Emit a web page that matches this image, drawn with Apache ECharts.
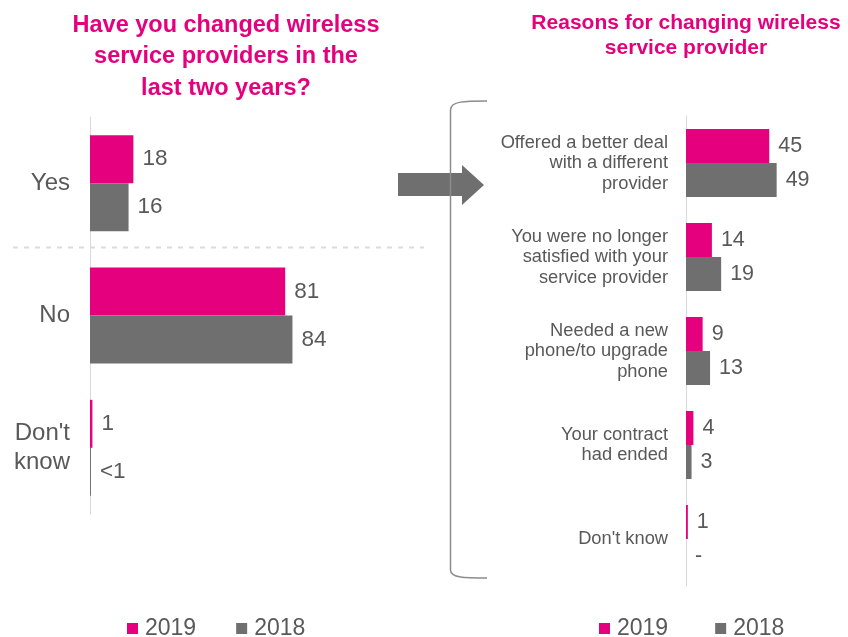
<!DOCTYPE html>
<html>
<head>
<meta charset="utf-8">
<script src="https://cdn.jsdelivr.net/npm/echarts@6/dist/echarts.min.js"></script>
<style>
  html, body { margin: 0; padding: 0; background: #ffffff; }
  #chart { width: 848px; height: 637px; }
</style>
</head>
<body>
<div id="chart"></div>
<script>
// Survey: switching wireless providers
const seriesNames = ['2019', '2018'];

const switchCategories = ['Yes', 'No', "Don't\nknow"];
const switch2019 = [18, 81, 1];
const switch2018 = [16, 84, 0.4];
const switchLabels2019 = ['18', '81', '1'];
const switchLabels2018 = ['16', '84', '<1'];

const reasonCategories = [
  'Offered a better deal\nwith a different\nprovider',
  'You were no longer\nsatisfied with your\nservice provider',
  'Needed a new\nphone/to upgrade\nphone',
  'Your contract\nhad ended',
  "Don't know"
];
const reason2019 = [45, 14, 9, 4, 1];
const reason2018 = [49, 19, 13, 3, 0];
const reasonLabels2019 = ['45', '14', '9', '4', '1'];
const reasonLabels2018 = ['49', '19', '13', '3', '-'];

const PINK = '#E5007D';
const GREY = '#6F6F6F';
const TEXT = '#595959';
const FONT = 'Liberation Sans, Arial, sans-serif';

const chart = echarts.init(document.getElementById('chart'), null, { renderer: 'canvas' });

function valueLabel(labels, size) {
  return {
    show: true,
    position: 'right',
    distance: 9,
    color: TEXT,
    fontSize: size,
    fontFamily: FONT,
    formatter: p => labels[p.dataIndex]
  };
}

function catAxis(gridIndex, data, fontSize, lineHeight, margin) {
  return {
    type: 'category',
    gridIndex: gridIndex,
    data: data,
    inverse: true,
    axisTick: { show: false },
    axisLine: { show: true, lineStyle: { color: '#D9D9D9', width: 1 } },
    axisLabel: {
      color: TEXT, fontSize: fontSize, fontFamily: FONT,
      lineHeight: lineHeight, margin: margin, align: 'right'
    },
    splitLine: { show: false }
  };
}

function valAxis(gridIndex, max) {
  return {
    type: 'value',
    gridIndex: gridIndex,
    min: 0,
    max: max,
    show: false,
    splitLine: { show: false }
  };
}

function legendAt(left, gap) {
  return {
    data: seriesNames,
    left: left, top: 617, padding: 0,
    itemWidth: 11, itemHeight: 11, itemGap: gap,
    icon: 'rect',
    textStyle: { color: TEXT, fontSize: 23, fontFamily: FONT, padding: [0, 0, 0, 2] }
  };
}

const bracketStyle = { stroke: '#8C8C8C', lineWidth: 1.5, fill: null };

const option = {
  backgroundColor: '#ffffff',
  animation: false,
  textStyle: { fontFamily: FONT },
  legend: [legendAt(127, 40), legendAt(599, 47)],
  grid: [
    { left: 90, top: 117, width: 241, height: 397 },
    { left: 686, top: 116, width: 111, height: 470 }
  ],
  xAxis: [valAxis(0, 100), valAxis(1, 60)],
  yAxis: [
    catAxis(0, switchCategories, 24, 29, 20),
    catAxis(1, reasonCategories, 18.3, 20.5, 18)
  ],
  series: [
    {
      name: '2019', type: 'bar', xAxisIndex: 0, yAxisIndex: 0,
      data: switch2019, barWidth: 48, barGap: '0%',
      itemStyle: { color: PINK },
      label: valueLabel(switchLabels2019, 22.5)
    },
    {
      name: '2018', type: 'bar', xAxisIndex: 0, yAxisIndex: 0,
      data: switch2018, barWidth: 48, barGap: '0%',
      itemStyle: { color: GREY },
      label: valueLabel(switchLabels2018, 22.5)
    },
    {
      name: '2019', type: 'bar', xAxisIndex: 1, yAxisIndex: 1,
      data: reason2019, barWidth: 34, barGap: '0%',
      itemStyle: { color: PINK },
      label: valueLabel(reasonLabels2019, 21.5)
    },
    {
      name: '2018', type: 'bar', xAxisIndex: 1, yAxisIndex: 1,
      data: reason2018, barWidth: 34, barGap: '0%',
      itemStyle: { color: GREY },
      label: valueLabel(reasonLabels2018, 21.5)
    }
  ],
  graphic: [
    {
      type: 'text', x: 226, y: 57, silent: true,
      style: {
        text: 'Have you changed wireless\nservice providers in the\nlast two years?',
        fill: PINK, font: 'bold 23.5px ' + FONT,
        align: 'center', verticalAlign: 'middle', lineHeight: 31.5
      }
    },
    {
      type: 'text', x: 686, y: 36, silent: true,
      style: {
        text: 'Reasons for changing wireless\nservice provider',
        fill: PINK, font: 'bold 21px ' + FONT,
        align: 'center', verticalAlign: 'middle', lineHeight: 25
      }
    },
    // separator between "Yes" and "No"
    {
      type: 'line', silent: true,
      shape: { x1: 13, y1: 247.5, x2: 424, y2: 247.5 },
      style: { stroke: '#DCDCDC', lineWidth: 2, lineDash: [5, 6] }
    },
    // arrow pointing to the reasons panel
    {
      type: 'polygon', silent: true,
      shape: { points: [[398, 173], [462, 173], [462, 165], [484, 185], [462, 205], [462, 196], [398, 196]] },
      style: { fill: '#6F6F6F' }
    },
    // bracket grouping the reasons
    {
      type: 'bezierCurve', silent: true,
      shape: { x1: 450.5, y1: 110, cpx1: 450.5, cpy1: 101, cpx2: 465, cpy2: 101, x2: 487, y2: 101 },
      style: bracketStyle
    },
    {
      type: 'line', silent: true,
      shape: { x1: 450.5, y1: 110, x2: 450.5, y2: 570 },
      style: bracketStyle
    },
    {
      type: 'bezierCurve', silent: true,
      shape: { x1: 450.5, y1: 570, cpx1: 450.5, cpy1: 578, cpx2: 465, cpy2: 578, x2: 487, y2: 578 },
      style: bracketStyle
    }
  ]
};

chart.setOption(option);
</script>
</body>
</html>
